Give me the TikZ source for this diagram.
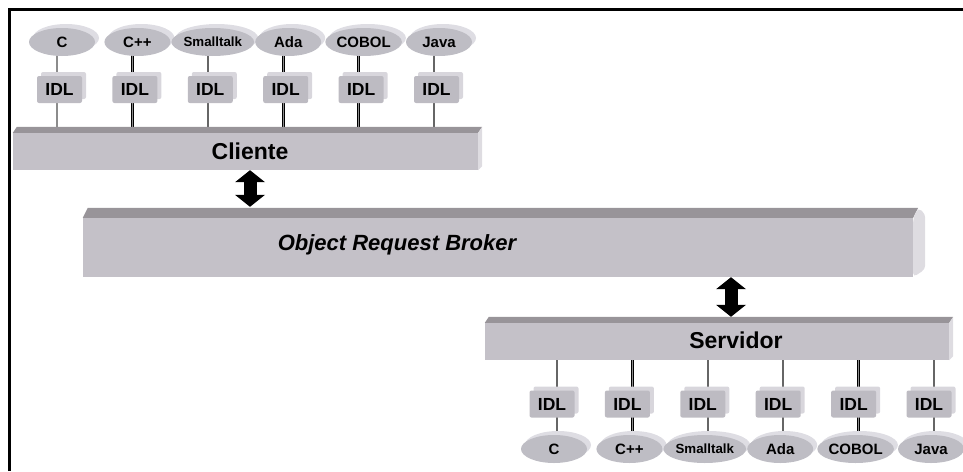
\documentclass[tikz,border=0pt]{standalone}
\usepackage{fontspec}
\setmainfont{Liberation Sans}
\usepackage{tikz}
\newcommand{\colstep}{75.4}
\definecolor{ellFace}{RGB}{190,189,196}
\definecolor{ellBack}{RGB}{222,221,227}
\definecolor{idlFace}{RGB}{189,187,194}
\definecolor{idlBevel}{RGB}{216,214,220}
\definecolor{barFace}{RGB}{196,193,200}
\definecolor{barTop}{RGB}{152,148,153}
\definecolor{barSide}{RGB}{222,220,225}
\usetikzlibrary{arrows.meta,calc,shadows,shapes.geometric}
\pgfdeclarelayer{bg}
\pgfsetlayers{bg,main}
\tikzset{
  x=1pt, y=-1pt,
  lang/.style={ellipse,fill=ellFace,minimum width=66pt,minimum height=28pt,inner sep=0,
    copy shadow={shadow xshift=4pt,shadow yshift=4pt,fill=ellBack,draw=none}},
  idl/.style={rectangle,rounded corners=2pt,fill=idlFace,minimum width=45pt,minimum height=27pt,inner sep=0,
    font=\fontsize{17.5}{17.5}\selectfont\bfseries,
    copy shadow={shadow xshift=4pt,shadow yshift=4pt,fill=idlBevel,draw=none}},
  bar/.style={rectangle,fill=barFace,inner sep=0},
  barlabel/.style={font=\fontsize{23}{23}\selectfont\bfseries},
  dblLink/.style={draw=black,line width=0.7pt,double=black!45,double distance=1.3pt},
  sglLink/.style={draw=black!60,line width=2.3pt},
  bigArrow/.style={line width=13pt,
    {Triangle[length=12pt,width=30pt,line width=0pt]}-{Triangle[length=12pt,width=30pt,line width=0pt]}},
}
\begin{document}
\begin{tikzpicture}
  \useasboundingbox (0,0) rectangle (963,471);
  \draw [line width=2.5pt] (9.5,471) -- (9.5,9.5) -- (963,9.5);

  \node (cliente) [bar,minimum width=465pt,minimum height=37pt,
    label={[barlabel,xshift=4.5pt]center:Cliente}] at (245.5,151.5) {};
  \fill [barTop] (cliente.north west) -- ($(cliente.north west)+(4,-6)$) -- ($(cliente.north east)+(4,-6)$) -- (cliente.north east) -- cycle;
  \fill [barSide] (cliente.north east) -- ($(cliente.north east)+(4,-6)$) -- ($(cliente.south east)+(4,-4)$) -- (cliente.south east) -- cycle;

  \node (orb) [bar,minimum width=830pt,minimum height=59pt,
    label={[font=\fontsize{22}{22}\selectfont\bfseries\itshape,xshift=-101pt,yshift=2.5pt]center:Object Request Broker}] at (498,247.5) {};
  \fill [barTop] (orb.north west) -- ($(orb.north west)+(5,-10)$) -- ($(orb.north east)+(5,-10)$) -- (orb.north east) -- cycle;
  \fill [barSide,rounded corners=4pt] (orb.north east) -- ($(orb.north east)+(5,-10)$) -- ($(orb.north east)+(12,-4)$) -- ($(orb.south east)+(12,-8)$) -- (orb.south east) -- cycle;

  \node (servidor) [bar,minimum width=464pt,minimum height=37pt,
    label={[barlabel,xshift=19pt,yshift=1.5pt]center:Servidor}] at (717,341.5) {};
  \fill [barTop] (servidor.north west) -- ($(servidor.north west)+(4,-6)$) -- ($(servidor.north east)+(4,-6)$) -- (servidor.north east) -- cycle;
  \fill [barSide] (servidor.north east) -- ($(servidor.north east)+(4,-6)$) -- ($(servidor.south east)+(4,-4)$) -- (servidor.south east) -- cycle;

  \foreach \i/\lang/\sz/\lnk in {1/C/15/dblLink,2/C++/15/dblLink,3/Smalltalk/13.3/sglLink,4/Ada/15/dblLink,5/COBOL/15/dblLink,6/Java/15/sglLink} {
    \pgfmathsetmacro\cx{57+\colstep*(\i-1)}
    \coordinate (ccol\i) at (\cx,0);
    \node (cl\i) [lang,font=\fontsize{\sz}{\sz}\selectfont\bfseries] at (\cx+5,42) {\lang};
    \node (cidl\i) [idl] at (\cx+2.5,89.5) {IDL};
    \begin{pgfonlayer}{bg}
      \path [\lnk] (ccol\i |- cl\i) -- (ccol\i |- cliente.north);
    \end{pgfonlayer}
  }

  \foreach \i/\lang/\sz/\lnk in {1/C/15/sglLink,2/C++/15/dblLink,3/Smalltalk/13.3/sglLink,4/Ada/15/sglLink,5/COBOL/15/dblLink,6/Java/15/sglLink} {
    \pgfmathsetmacro\cx{557+\colstep*(\i-1)}
    \coordinate (scol\i) at (\cx,0);
    \node (sl\i) [lang,font=\fontsize{\sz}{\sz}\selectfont\bfseries] at (\cx-3,449) {\lang};
    \node (sidl\i) [idl] at (\cx-5,404) {IDL};
    \begin{pgfonlayer}{bg}
      \path [\lnk] (scol\i |- servidor.south) -- (scol\i |- sl\i);
    \end{pgfonlayer}
  }

  \coordinate (carrow) at ([xshift=4.5pt]cliente.south);
  \coordinate (sarrow) at ([xshift=14pt]servidor.north);
  \draw [bigArrow,shorten >=11pt] (carrow) -- (carrow |- orb.north);
  \draw [bigArrow,shorten >=6pt] (sarrow |- orb.south) -- (sarrow);
\end{tikzpicture}
\end{document}
